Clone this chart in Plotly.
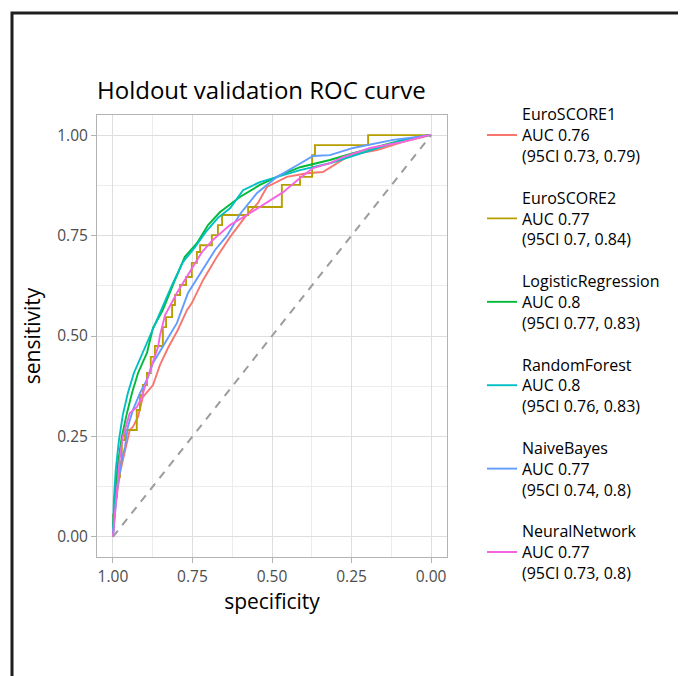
import plotly.graph_objects as go

# ---------------- data ----------------
models = ["EuroSCORE1", "EuroSCORE2", "LogisticRegression",
          "RandomForest", "NaiveBayes", "NeuralNetwork"]
auc = [0.76, 0.77, 0.8, 0.8, 0.77, 0.77]
ci_low = [0.73, 0.7, 0.77, 0.76, 0.74, 0.73]
ci_high = [0.79, 0.84, 0.83, 0.83, 0.8, 0.8]
colors = ["#F8766D", "#B79F00", "#00BA38", "#00BFC4", "#619CFF", "#F564E3"]

es1_spec = [1.000, 0.994, 0.978, 0.962, 0.947, 0.937, 0.921, 0.906, 0.874, 0.852,
            0.827, 0.796, 0.767, 0.752, 0.717, 0.673, 0.632, 0.585, 0.544, 0.516,
            0.453, 0.390, 0.340, 0.255, 0.170, 0.088, 0.009, 0.000]
es1_sens = [0.000, 0.067, 0.159, 0.216, 0.266, 0.274, 0.299, 0.348, 0.378, 0.428,
            0.470, 0.515, 0.565, 0.582, 0.639, 0.697, 0.746, 0.796, 0.831, 0.871,
            0.896, 0.905, 0.908, 0.950, 0.963, 0.983, 1.000, 1.000]

es2_spec = [1.000, 1.000, 0.994, 0.994, 0.987, 0.987, 0.978, 0.978, 0.972, 0.972,
            0.962, 0.962, 0.925, 0.925, 0.915, 0.915, 0.906, 0.906, 0.893, 0.893,
            0.881, 0.881, 0.868, 0.868, 0.843, 0.843, 0.833, 0.833, 0.814, 0.814,
            0.805, 0.805, 0.789, 0.789, 0.770, 0.770, 0.752, 0.752, 0.736, 0.736,
            0.726, 0.726, 0.689, 0.689, 0.670, 0.670, 0.657, 0.657, 0.575, 0.575,
            0.469, 0.469, 0.412, 0.412, 0.374, 0.374, 0.365, 0.365, 0.198, 0.198,
            0.000]
es2_sens = [0.000, 0.055, 0.055, 0.100, 0.100, 0.149, 0.149, 0.187, 0.187, 0.241,
            0.241, 0.266, 0.266, 0.316, 0.316, 0.353, 0.353, 0.378, 0.378, 0.408,
            0.408, 0.448, 0.448, 0.475, 0.475, 0.522, 0.522, 0.547, 0.547, 0.577,
            0.577, 0.602, 0.602, 0.627, 0.627, 0.647, 0.647, 0.682, 0.682, 0.709,
            0.709, 0.726, 0.726, 0.751, 0.751, 0.776, 0.776, 0.801, 0.801, 0.821,
            0.821, 0.876, 0.876, 0.896, 0.896, 0.950, 0.950, 0.975, 0.975, 1.000,
            1.000]

lr_spec = [1.000, 0.994, 0.984, 0.972, 0.956, 0.940, 0.921, 0.893, 0.874, 0.843,
           0.805, 0.774, 0.736, 0.701, 0.664, 0.601, 0.538, 0.475, 0.412, 0.318,
           0.245, 0.170, 0.088, 0.009, 0.000]
lr_sens = [0.000, 0.100, 0.184, 0.249, 0.308, 0.358, 0.408, 0.458, 0.520, 0.565,
           0.639, 0.697, 0.731, 0.776, 0.808, 0.846, 0.876, 0.900, 0.920, 0.938,
           0.955, 0.970, 0.988, 1.000, 1.000]

rf_spec = [1.000, 0.997, 0.991, 0.981, 0.969, 0.953, 0.934, 0.909, 0.884, 0.852,
           0.814, 0.780, 0.742, 0.708, 0.670, 0.632, 0.591, 0.538, 0.475, 0.412,
           0.318, 0.245, 0.170, 0.088, 0.009, 0.000]
rf_sens = [0.000, 0.092, 0.167, 0.241, 0.303, 0.358, 0.408, 0.453, 0.502, 0.557,
           0.627, 0.684, 0.721, 0.759, 0.794, 0.818, 0.863, 0.883, 0.898, 0.913,
           0.930, 0.948, 0.968, 0.988, 1.000, 1.000]

nb_spec = [1.000, 0.987, 0.972, 0.962, 0.953, 0.937, 0.915, 0.893, 0.874, 0.843,
           0.799, 0.764, 0.720, 0.679, 0.642, 0.601, 0.547, 0.484, 0.421, 0.371,
           0.318, 0.245, 0.119, 0.009, 0.000]
nb_sens = [0.000, 0.117, 0.192, 0.224, 0.274, 0.316, 0.358, 0.391, 0.433, 0.473,
           0.532, 0.607, 0.664, 0.714, 0.749, 0.803, 0.856, 0.896, 0.925, 0.948,
           0.950, 0.968, 0.988, 1.000, 1.000]

nn_spec = [1.000, 0.987, 0.978, 0.969, 0.956, 0.947, 0.925, 0.909, 0.893, 0.874,
           0.858, 0.852, 0.836, 0.799, 0.758, 0.720, 0.686, 0.632, 0.579, 0.528,
           0.465, 0.412, 0.371, 0.318, 0.277, 0.192, 0.088, 0.009, 0.000]
nn_sens = [0.000, 0.124, 0.199, 0.249, 0.284, 0.308, 0.323, 0.348, 0.391, 0.433,
           0.473, 0.502, 0.552, 0.607, 0.659, 0.709, 0.739, 0.776, 0.801, 0.826,
           0.858, 0.893, 0.918, 0.930, 0.945, 0.968, 0.983, 1.000, 1.000]

diag_spec = [1.0, 0.0]
diag_sens = [0.0, 1.0]

x_ticks = [1.0, 0.75, 0.5, 0.25, 0.0]
x_ticklabels = ["1.00", "0.75", "0.50", "0.25", "0.00"]
y_ticks = [0.0, 0.25, 0.5, 0.75, 1.0]
y_ticklabels = ["0.00", "0.25", "0.50", "0.75", "1.00"]
minor_ticks = [0.125, 0.375, 0.625, 0.875]

specs = [es1_spec, es2_spec, lr_spec, rf_spec, nb_spec, nn_spec]
senss = [es1_sens, es2_sens, lr_sens, rf_sens, nb_sens, nn_sens]

FONT = "Open Sans"

# page body has an 8px default margin; layout positions compensate for it
OFF = 8
PL, PR, PT, PB = 97 - OFF, 447 - OFF, 115 - OFF, 557 - OFF   # panel edges in figure px
PW, PH = PR - PL, PB - PT

fig = go.Figure()
for name, a, lo, hi, col, sx, sy in zip(models, auc, ci_low, ci_high, colors, specs, senss):
    fig.add_trace(go.Scatter(
        x=sx, y=sy, mode="lines",
        line=dict(color=col, width=1.9),
        name=f"{name}<br>AUC {a}<br>(95CI {lo}, {hi})",
        legendgroup=name,
    ))

fig.add_trace(go.Scatter(
    x=diag_spec, y=diag_sens, mode="lines",
    line=dict(color="#9c9c9c", width=2, dash="8px,7px"),
    showlegend=False, hoverinfo="skip",
))

axis_common = dict(
    showgrid=True, gridcolor="#dedede", gridwidth=1,
    zeroline=False,
    showline=True, linecolor="#b3b3b3", linewidth=1, mirror=True,
    ticks="outside", ticklen=5, tickcolor="#b3b3b3", tickwidth=1,
    tickfont=dict(family=FONT, size=15.5, color="#4d4d4d"),
    minor=dict(tickvals=minor_ticks, showgrid=True, gridcolor="#ececec", gridwidth=0.7),
)

fig.update_xaxes(
    range=[1.05, -0.05], tickvals=x_ticks, ticktext=x_ticklabels,
    title=dict(text="specificity", font=dict(family=FONT, size=21, color="black"), standoff=5),
    **axis_common,
)
fig.update_yaxes(
    range=[-0.05, 1.05], tickvals=y_ticks, ticktext=y_ticklabels,
    title=dict(text="sensitivity", font=dict(family=FONT, size=21, color="black"), standoff=10),
    **axis_common,
)

fig.update_layout(
    width=686, height=676,
    margin=dict(l=PL, r=686 - PR, t=PT, b=676 - PB),
    paper_bgcolor="white", plot_bgcolor="white",
    font=dict(family=FONT, color="black"),
    title=dict(text="Holdout validation ROC curve",
               font=dict(family=FONT, size=24, color="black"),
               x=PL / 686, xanchor="left", xref="container",
               y=1 - (91 - OFF) / 676, yanchor="middle", yref="container"),
    legend=dict(x=1.1, xanchor="left", y=1.04, yanchor="top",
                font=dict(family=FONT, size=16, color="black"),
                tracegroupgap=18, bgcolor="rgba(0,0,0,0)",
                maxheight=640),
    shapes=[dict(type="rect", xref="paper", yref="paper",
                 x0=(12 - OFF - PL) / PW, x1=(682 - OFF - PL) / PW,
                 y0=(PB - 720) / PH, y1=(PB - (13 - OFF)) / PH,
                 line=dict(color="#1e1e1e", width=3), fillcolor="rgba(0,0,0,0)",
                 layer="above")],
)

fig.write_html("out.html")
